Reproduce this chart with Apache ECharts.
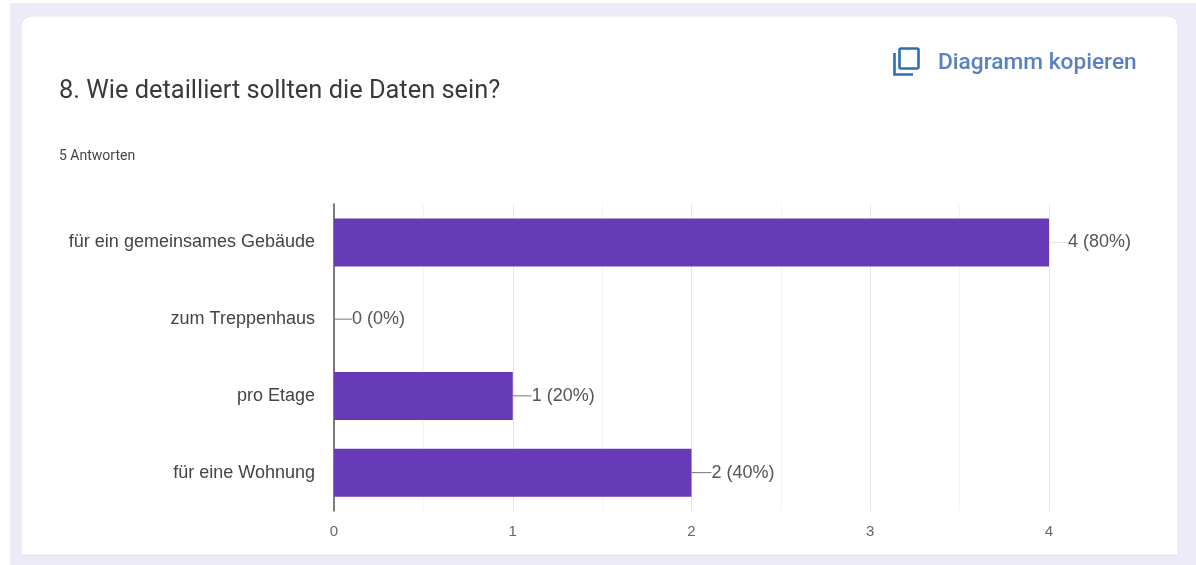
<!DOCTYPE html>
<html>
<head>
<meta charset="utf-8">
<style>
  html, body { margin: 0; padding: 0; background: #ffffff; }
  #chart { width: 1196px; height: 565px; }
</style>
<script src="https://cdn.jsdelivr.net/npm/echarts@6/dist/echarts.min.js"></script>
</head>
<body>
<div id="chart"></div>
<script>
// Survey question, answer options and response counts
const questionTitle = '8. Wie detailliert sollten die Daten sein?';
const responseNote = '5 Antworten';
const copyAction = 'Diagramm kopieren';
const categories = ['für ein gemeinsames Gebäude', 'zum Treppenhaus', 'pro Etage', 'für eine Wohnung'];
const counts = [4, 0, 1, 2];
const shares = ['80%', '0%', '20%', '40%'];
const axisTicks = [0, 1, 2, 3, 4];

const chart = echarts.init(document.getElementById('chart'), null, { renderer: 'canvas' });

chart.setOption({
  animation: false,
  backgroundColor: '#ffffff',
  textStyle: { fontFamily: 'Liberation Sans' },
  title: [
    {
      text: questionTitle, left: 59, top: 79, padding: 0,
      textStyle: { fontFamily: 'Roboto', fontSize: 25.4, fontWeight: 400, color: '#3a3a3a' }
    },
    {
      text: responseNote, left: 59, top: 149, padding: 0,
      textStyle: { fontFamily: 'Roboto', fontSize: 14, fontWeight: 400, color: '#444444' }
    },
    {
      text: copyAction, left: 938, top: 52, padding: 0,
      textStyle: { fontFamily: 'Roboto', fontSize: 22.7, fontWeight: 500, color: '#5a80c0' }
    }
  ],
  grid: { left: 334, top: 204, width: 715, height: 307, containLabel: false },
  xAxis: {
    type: 'value', min: 0, max: 4, interval: 1,
    axisLine: { show: false },
    axisTick: { show: false },
    axisLabel: {
      margin: 13, fontSize: 15, color: '#666666',
      formatter: v => axisTicks.includes(v) ? String(v) : ''
    },
    splitLine: { show: true, lineStyle: { color: '#e6e6e6', width: 1 } },
    minorTick: { show: false, splitNumber: 2 },
    minorSplitLine: { show: true, lineStyle: { color: '#f4f4f4', width: 1 } }
  },
  yAxis: {
    type: 'category', inverse: true, data: categories,
    axisLine: { show: true, onZero: false, lineStyle: { color: '#555555', width: 1.5 } },
    axisTick: { show: false },
    axisLabel: { margin: 19, fontSize: 18, color: '#444444', padding: [3, 0, 0, 0] }
  },
  series: [{
    type: 'bar',
    barWidth: 48,
    itemStyle: { color: '#673ab7' },
    silent: true,
    data: counts.map((v, i) => ({
      value: v,
      labelLine: { show: true, lineStyle: { color: i === 0 ? '#e4e4e4' : '#777777', width: 1 } }
    })),
    label: {
      show: true, position: 'right', distance: 0,
      fontSize: 18, color: '#555555',
      formatter: p => `${counts[p.dataIndex]} (${shares[p.dataIndex]})`
    },
    labelLine: { show: true, lineStyle: { color: '#777777', width: 1 } },
    // shift each value label clear of the bar so its leader line shows
    labelLayout: p => ({ dx: [19, 18, 19, 20][p.dataIndex] })
  }],
  graphic: [
    // page background and the rounded card behind the chart
    { type: 'rect', z: -20, silent: true, shape: { x: 10, y: 3, width: 1186, height: 562 }, style: { fill: '#eeebf8' } },
    { type: 'rect', z: -19, silent: true, shape: { x: 21, y: 16, width: 1157, height: 539, r: [10, 10, 0, 0] },
      style: { fill: '#ffffff', stroke: '#e6e4ee', lineWidth: 1 } },
    // copy icon: front page plus the open corner of the page behind it
    { type: 'rect', silent: true, shape: { x: 899.5, y: 48.5, width: 19, height: 20, r: 1.5 },
      style: { fill: 'none', stroke: '#2d6db5', lineWidth: 2.6 } },
    { type: 'polyline', silent: true, shape: { points: [[894.5, 53], [894.5, 74.5], [913, 74.5]] },
      style: { fill: 'none', stroke: '#2d6db5', lineWidth: 2.6 } }
  ]
});
</script>
</body>
</html>
